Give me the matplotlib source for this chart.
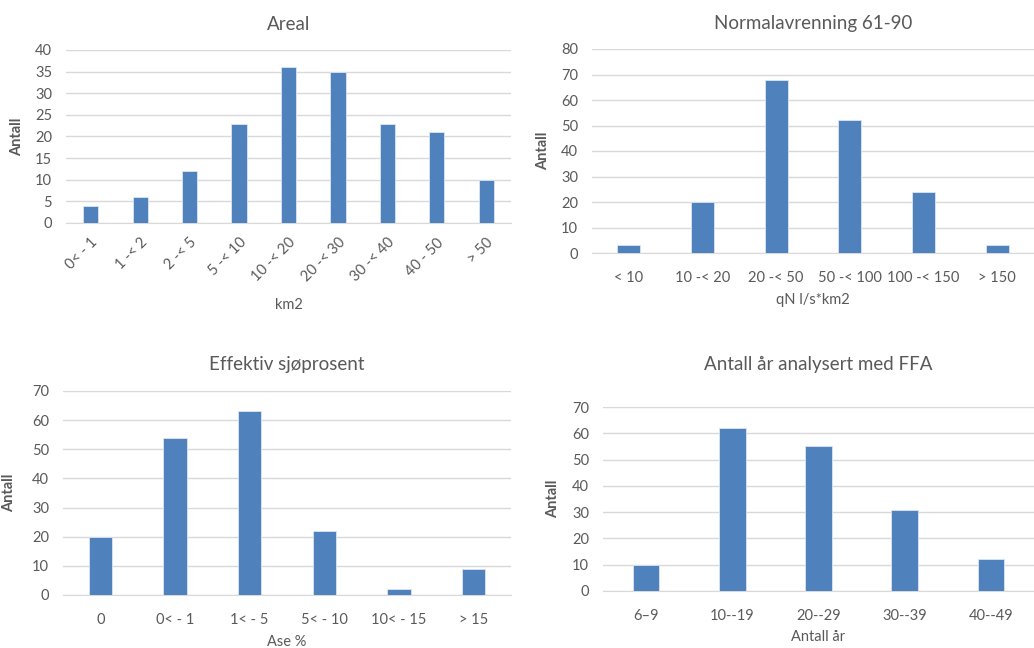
import matplotlib
matplotlib.use("Agg")
import matplotlib.pyplot as plt
import numpy as np

plt.rcParams['font.family'] = ['Lato', 'DejaVu Sans']

# Histogram data for the four catchment properties
areal_labels = ["0< - 1", "1 -< 2", "2 -< 5", "5 -< 10", "10 -< 20",
                "20 -< 30", "30 -< 40", "40 - 50", "> 50"]
areal_counts = [4, 6, 12, 23, 36, 35, 23, 21, 10]

avrenning_labels = ["< 10", "10 -< 20", "20 -< 50", "50 -< 100", "100 -< 150", "> 150"]
avrenning_counts = [3, 20, 68, 52, 24, 3]

sjo_labels = ["0", "0< - 1", "1< - 5", "5< - 10", "10< - 15", "> 15"]
sjo_counts = [20, 54, 63, 22, 2, 9]

ffa_labels = ["6\u20139", "10--19", "20--29", "30--39", "40--49"]
ffa_counts = [10, 62, 55, 31, 12]

BAR = '#4F81BD'
GRID = '#D9D9D9'
TXT = '#595959'
W, H = 1034, 648


def add_panel(fig, px, labels, counts, ymax, ystep, title, xlabel,
              rot=0, title_y=None, xlabel_y=None):
    """px = (left, top, right, bottom) of the plot area in pixels"""
    l, t, r, b = px
    ax = fig.add_axes([l / W, 1 - b / H, (r - l) / W, (b - t) / H])
    x = np.arange(len(counts))
    ax.bar(x, counts, width=0.31, color=BAR, edgecolor='#DCE6F2',
           linewidth=0.6, zorder=3)
    ax.set_xlim(-0.5, len(counts) - 0.5)
    ax.set_ylim(0, ymax)
    ax.set_yticks(np.arange(0, ymax + 1, ystep))
    ax.yaxis.grid(True, color=GRID, linewidth=1, zorder=0)
    for s in ['top', 'right', 'left']:
        ax.spines[s].set_visible(False)
    ax.spines['bottom'].set_color(GRID)
    ax.tick_params(length=0, colors=TXT, labelsize=10.5)
    ax.tick_params(axis='y', pad=10)
    ax.set_xticks(x)
    if rot:
        ax.set_xticklabels(labels, rotation=rot, ha='right',
                           rotation_mode='anchor')
        ax.tick_params(axis='x', pad=9)
    else:
        ax.set_xticklabels(labels)
        ax.tick_params(axis='x', pad=13)
    ax.set_ylabel("Antall", color=TXT, fontsize=10.5, fontweight='bold')
    fig.text((l + r) / 2 / W, 1 - title_y / H, title, color=TXT,
             fontsize=13.5, ha='center', va='center')
    fig.text((l + r) / 2 / W, 1 - xlabel_y / H, xlabel, color=TXT,
             fontsize=10.5, ha='center', va='center')
    return ax


fig = plt.figure(figsize=(W / 100, H / 100), dpi=100)

a1 = add_panel(fig, (66, 50, 511, 223), areal_labels, areal_counts, 40, 5,
               "Areal", "km2", rot=45, title_y=24, xlabel_y=305)
a1.yaxis.set_label_coords(-0.095, 0.5)

a2 = add_panel(fig, (592, 49, 1034, 253), avrenning_labels, avrenning_counts,
               80, 10, "Normalavrenning 61-90", "qN l/s*km2",
               title_y=24, xlabel_y=300)
a2.yaxis.set_label_coords(-0.095, 0.5)

a3 = add_panel(fig, (63, 391, 511, 595), sjo_labels, sjo_counts, 70, 10,
               "Effektiv sjøprosent", "Ase %", title_y=364, xlabel_y=642)
a3.yaxis.set_label_coords(-0.105, 0.5)

a4 = add_panel(fig, (603, 407, 1034, 591), ffa_labels, ffa_counts, 70, 10,
               "Antall år analysert med FFA", "Antall år",
               title_y=365, xlabel_y=637)
a4.yaxis.set_label_coords(-0.1, 0.5)

fig.savefig("out.png", dpi=100, facecolor='white')
